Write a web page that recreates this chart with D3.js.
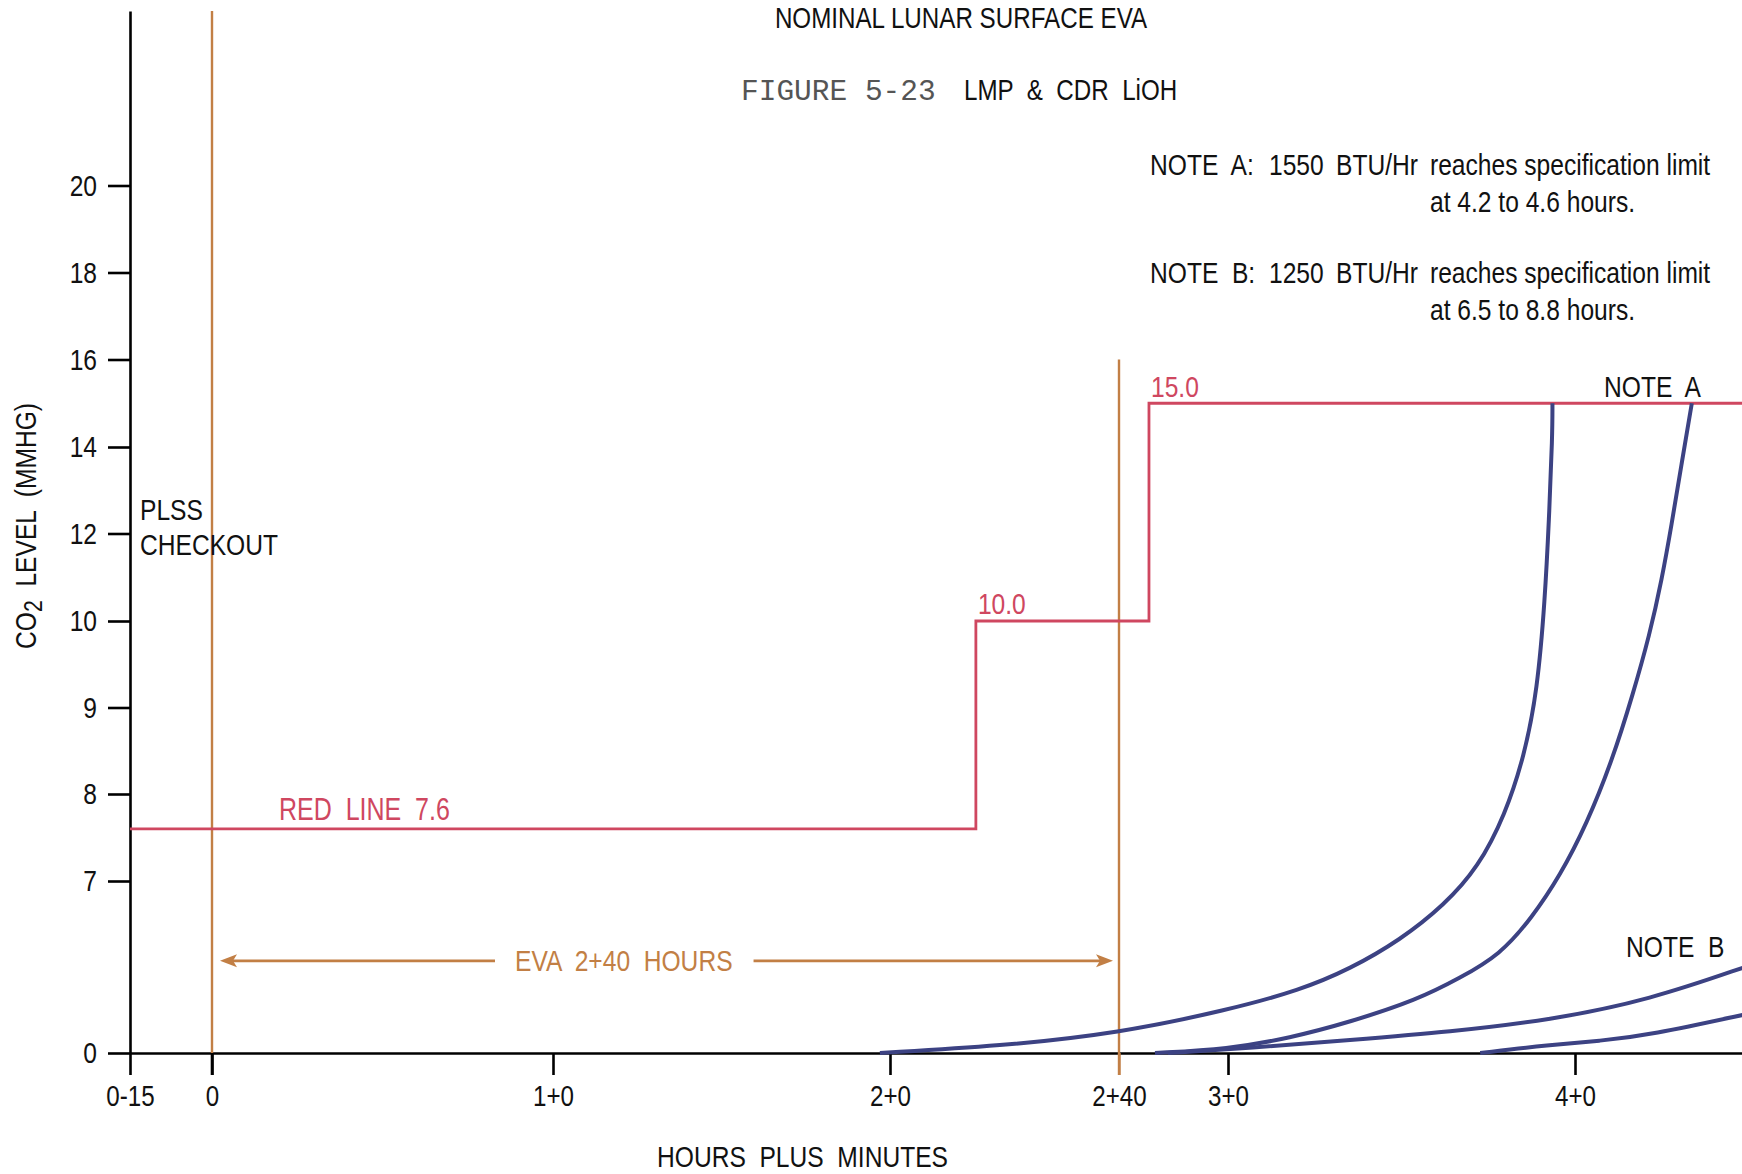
<!DOCTYPE html>
<html><head><meta charset="utf-8">
<script src="https://cdn.jsdelivr.net/npm/d3@7"></script>
<style>
html,body{margin:0;padding:0;background:#fff;}
svg{display:block;}
</style></head><body>
<svg id="chart" width="1742" height="1174"></svg>
<script>
// ---------------- DATA ----------------
const xTickMinutes = [-15, 0, 60, 120, 160, 180, 240];
const xTickLabels  = ["0-15", "0", "1+0", "2+0", "2+40", "3+0", "4+0"];
const yTickValues  = [0, 7, 8, 9, 10, 12, 14, 16, 18, 20];

// CO2 red line limits (step after each time, minutes from EVA start)
const redLineTimes  = [-15, 135, 165.5, 270];
const redLineValues = [7.6, 10.0, 15.0, 15.0];

// EVA duration (minutes)
const evaStart = 0, evaEnd = 160;
const evaArrowLevel = 3.75;

// CO2 build-up curves [minutes, mmHg]
const curveA1 = [[118.2,0],[139.2,0.28],[160,0.81],[180,1.75],[192.5,2.56],[201.1,3.42],[209.8,4.6],[217.4,6.02],[223.3,7.16],[227.9,7.76],[231.2,8.43],[233.5,9.2],[234.8,10.48],[235.5,12.31],[236.1,14.3],[236.1,15]];
const curveA2 = [[166.6,0],[180,0.16],[190.7,0.61],[201.1,1.26],[212.7,2.16],[220.1,3.05],[227,3.99],[232.5,5.49],[237.4,7.06],[242,7.65],[246.5,8.4],[250,9.15],[252.9,9.84],[255,10.94],[256.7,12.2],[258.4,13.59],[260.2,15]];
const curveB1 = [[169,0],[183.8,0.2],[201.1,0.53],[218.4,0.86],[235.7,1.34],[252.9,2.16],[270,3.55]];
const curveB2 = [[223.6,0],[235.7,0.33],[244.3,0.49],[252.9,0.73],[270,1.6]];

// ---------------- SETUP ----------------
const W = 1742, H = 1174;
const svg = d3.select("#chart");
svg.append("rect").attr("width", W).attr("height", H).attr("fill", "#fff");

const RED = "#CF4760", ORANGE = "#C27F45", NAVY = "#3C4283", INK = "#111";

// font detection: narrow sans if available, otherwise horizontally compress regular sans
function measure(fam) {
  const t = svg.append("text").attr("font-family", fam).attr("font-size", 100).text("NOMINAL LUNAR SURFACE");
  const w = t.node().getComputedTextLength(); t.remove(); return w;
}
const wn = measure('"Liberation Sans Narrow"'), wr = measure('"Liberation Sans"');
let FONT, SX;
if (wn / wr < 0.9) { FONT = '"Liberation Sans Narrow", sans-serif'; SX = 1; }
else { FONT = '"Liberation Sans", Arial, sans-serif'; SX = 0.82; }

// scales (schematic axes, piecewise calibrated to the tick marks)
const xDomain = [-15, 0, 60, 120, 160, 180, 240, 270];
const xRange  = [130, 212, 553, 890, 1119, 1228, 1575, 1748.5];
const x = d3.scaleLinear().domain(xDomain).range(xRange);

const yDomain = [0, 7, 8, 9, 10, 12, 14, 16, 18, 20, 24];
const yRange  = [1053, 881, 794, 707.5, 621, 533.5, 447, 359.5, 272.5, 185.5, 11];
const y = d3.scaleLinear().domain(yDomain).range(yRange);

function label(px, py, str, opt = {}) {
  const size = opt.size || 30, fill = opt.fill || INK, anchor = opt.anchor || "start";
  const fam = opt.family || FONT, sx = opt.family ? 1 : SX, rot = opt.rotate || 0;
  const g = svg.append("g").attr("transform", `translate(${px},${py}) rotate(${rot}) scale(${sx},1)`);
  const t = g.append("text").attr("font-family", fam).attr("font-size", size)
    .attr("fill", fill).attr("text-anchor", anchor).style("white-space", "pre").text(str);
  return t;
}

// ---------------- AXES ----------------
const gx = svg.append("g").attr("transform", `translate(0,${y(0)})`)
  .call(d3.axisBottom(x).tickValues(xTickMinutes).tickFormat((d, i) => xTickLabels[i])
        .tickSize(22).tickPadding(10).tickSizeOuter(0));
gx.select(".domain").attr("stroke", "#000").attr("stroke-width", 2.6);
gx.selectAll(".tick line").attr("stroke", d => d === evaEnd ? ORANGE : "#000").attr("stroke-width", d => d === evaEnd ? 2.4 : 2.6);
gx.selectAll(".tick text").attr("font-family", FONT).attr("font-size", 29.5).attr("fill", INK)
  .attr("transform", `scale(${SX},1)`);

const gy = svg.append("g").attr("transform", `translate(${x(-15)},0)`)
  .call(d3.axisLeft(y).tickValues(yTickValues).tickSize(22).tickPadding(11).tickSizeOuter(0));
gy.select(".domain").attr("stroke", "#000").attr("stroke-width", 2.6);
gy.selectAll(".tick line").attr("stroke", "#000").attr("stroke-width", 2.6);
gy.selectAll(".tick text").attr("font-family", FONT).attr("font-size", 30).attr("fill", INK)
  .attr("x", -33 / SX).attr("transform", `scale(${SX},1)`);

// ---------------- EVA MARKERS ----------------
svg.append("line").attr("x1", x(evaStart)).attr("x2", x(evaStart))
  .attr("y1", y(24)).attr("y2", y(0)).attr("stroke", ORANGE).attr("stroke-width", 2.4);
svg.append("line").attr("x1", x(evaStart)).attr("x2", x(evaStart))
  .attr("y1", y(0)).attr("y2", y(0) + 22).attr("stroke", "#000").attr("stroke-width", 2.6);
svg.append("line").attr("x1", x(evaEnd)).attr("x2", x(evaEnd))
  .attr("y1", y(16)).attr("y2", y(0) + 22).attr("stroke", ORANGE).attr("stroke-width", 2.4);

// ---------------- RED LINE ----------------
const redPts = redLineTimes.map((t, i) => [t, redLineValues[i]]);
svg.append("path").datum(redPts)
  .attr("d", d3.line().x(d => x(d[0])).y(d => y(d[1])).curve(d3.curveStepAfter))
  .attr("fill", "none").attr("stroke", RED).attr("stroke-width", 2.8);

label(279, 820, "RED  LINE  7.6", { fill: RED, size: 30.5 });
label(x(redLineTimes[1]) + 2, y(redLineValues[1]) - 7, "10.0", { fill: RED });
label(x(redLineTimes[2]) + 2, y(redLineValues[2]) - 6, "15.0", { fill: RED });

// ---------------- CURVES ----------------
const curveLine = d3.line().x(d => x(d[0])).y(d => y(d[1])).curve(d3.curveBasis);
[curveA1, curveA2, curveB1, curveB2].forEach(c => {
  svg.append("path").datum(c).attr("d", curveLine)
    .attr("fill", "none").attr("stroke", NAVY).attr("stroke-width", 4).attr("stroke-linecap", "butt");
});

// ---------------- EVA ARROW ----------------
const ay = y(evaArrowLevel);
const evaText = label(515, ay + 10.5, "EVA  2+40  HOURS", { fill: ORANGE });
const bb = evaText.node().getBoundingClientRect();
const lTip = x(evaStart) + 8, rTip = x(evaEnd) - 6;
svg.append("line").attr("x1", lTip + 10).attr("x2", bb.left - 20).attr("y1", ay).attr("y2", ay)
  .attr("stroke", ORANGE).attr("stroke-width", 2.8);
svg.append("line").attr("x1", bb.right + 21).attr("x2", rTip - 10).attr("y1", ay).attr("y2", ay)
  .attr("stroke", ORANGE).attr("stroke-width", 2.8);
svg.append("path").attr("d", `M${lTip},${ay} L${lTip + 17},${ay - 6.5} L${lTip + 13},${ay} L${lTip + 17},${ay + 6.5} Z`).attr("fill", ORANGE);
svg.append("path").attr("d", `M${rTip},${ay} L${rTip - 17},${ay - 6.5} L${rTip - 13},${ay} L${rTip - 17},${ay + 6.5} Z`).attr("fill", ORANGE);

// ---------------- TEXTS ----------------
label(961, 28, "NOMINAL LUNAR SURFACE EVA", { anchor: "middle", size: 29.5 });
label(741, 100, "FIGURE 5-23", { family: '"Liberation Mono", "Courier New", monospace', size: 29.5, fill: "#555" });
label(964, 100, "LMP  &  CDR  LiOH", { size: 29.5 });

label(1150, 175, "NOTE  A:");
label(1269, 175, "1550");
label(1336, 175, "BTU/Hr");
label(1430, 175, "reaches specification limit");
label(1430, 212, "at 4.2 to 4.6 hours.");

label(1150, 283, "NOTE  B:");
label(1269, 283, "1250");
label(1336, 283, "BTU/Hr");
label(1430, 283, "reaches specification limit");
label(1430, 320, "at 6.5 to 8.8 hours.");

label(1604, 397, "NOTE  A");
label(1626, 957, "NOTE  B");

label(140, 520, "PLSS");
label(140, 555, "CHECKOUT");

label(657, 1167, "HOURS  PLUS  MINUTES");

// Y axis title with subscript
const yt = label(36, 526, "", { anchor: "middle", size: 30, rotate: -90 });
yt.append("tspan").text("CO");
yt.append("tspan").attr("dy", 6).attr("font-size", 26).text("2");
yt.append("tspan").attr("dy", -6).text("  LEVEL  (MMHG)");
</script>
</body></html>
